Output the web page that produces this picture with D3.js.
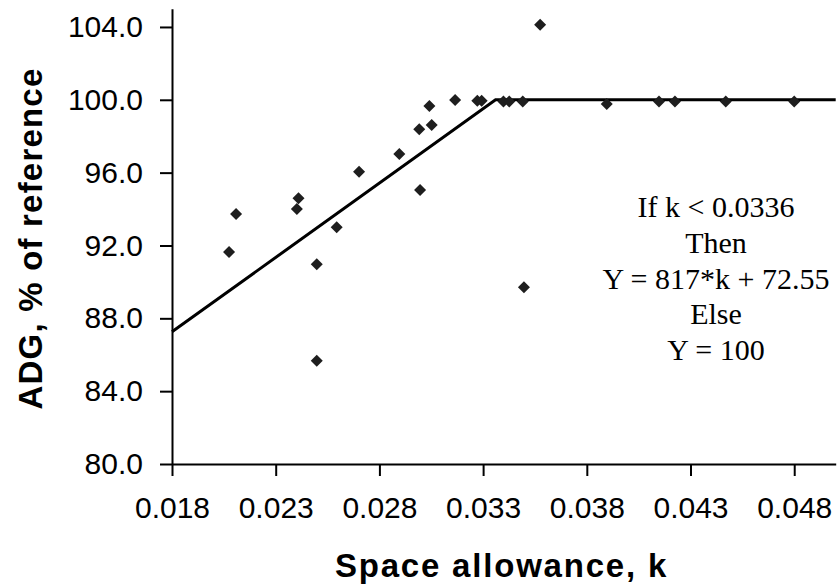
<!DOCTYPE html>
<html>
<head>
<meta charset="utf-8">
<script src="https://cdn.jsdelivr.net/npm/d3@7"></script>
<style>
  html, body { margin: 0; padding: 0; background: #fff; }
  svg { display: block; }
  .tick text { font-family: "Liberation Sans", Arial, sans-serif; font-size: 30px; fill: #000; }
</style>
</head>
<body>
<svg id="chart" width="838" height="586"></svg>
<script>
// ---- data ----
const spaceK = [0.02075, 0.02109, 0.02402, 0.0241, 0.02498, 0.02498, 0.02594, 0.02702, 0.02896, 0.02996,
                0.02992, 0.03052, 0.03041, 0.03165, 0.03272, 0.03293, 0.03398, 0.03426, 0.03491, 0.03575,
                0.03497, 0.03896, 0.04148, 0.04225, 0.0447, 0.048];
const adgPct = [91.64, 93.73, 94.0, 94.59, 90.97, 85.67, 93.0, 96.05, 97.02, 95.05,
                98.38, 98.62, 99.66, 99.99, 99.95, 99.95, 99.9, 99.9, 99.9, 104.12,
                89.7, 99.77, 99.9, 99.9, 99.9, 99.9];
const trendK = [0.018, 0.0336, 0.050];
const trendY = [87.26, 100.0, 100.0];
const xTicks = [0.018, 0.023, 0.028, 0.033, 0.038, 0.043, 0.048];
const yTicks = [80, 84, 88, 92, 96, 100, 104];
const annotation = ["If k < 0.0336", "Then", "Y = 817*k + 72.55", "Else", "Y = 100"];
const xTitle = "Space allowance, k";
const yTitle = "ADG, % of reference";

// ---- layout ----
const svg = d3.select("#chart");
const x = d3.scaleLinear().domain([0.018, 0.050]).range([172, 835.7]);
const y = d3.scaleLinear().domain([80, 105]).range([464, 8.75]);

// axes
const gx = svg.append("g").attr("transform", `translate(0,${y(80)})`)
  .call(d3.axisBottom(x).tickValues(xTicks).tickFormat(d3.format(".3f")).tickSize(12).tickPadding(21).tickSizeOuter(0));
const gy = svg.append("g").attr("transform", `translate(${x(0.018)},0)`)
  .call(d3.axisLeft(y).tickValues(yTicks).tickFormat(d3.format(".1f")).tickSize(12).tickPadding(17).tickSizeOuter(0));
[gx, gy].forEach(g => {
  g.select(".domain").attr("stroke", "#000").attr("stroke-width", 2);
  g.selectAll(".tick line").attr("stroke", "#000").attr("stroke-width", 2);
});

// trend line
const pts = trendK.map((k, i) => [k, trendY[i]]);
svg.append("path")
  .datum(pts)
  .attr("fill", "none")
  .attr("stroke", "#000")
  .attr("stroke-width", 3)
  .attr("d", d3.line().x(d => x(d[0])).y(d => y(d[1])));

// markers
const sym = d3.symbol().type(d3.symbolSquare).size(72);
svg.append("g").selectAll("path")
  .data(spaceK.map((k, i) => [k, adgPct[i]]))
  .join("path")
  .attr("d", sym)
  .attr("fill", "#1e1e1e")
  .attr("transform", d => `translate(${x(d[0])},${y(d[1])}) rotate(45)`);

// annotation
const ann = svg.append("text")
  .attr("font-family", "'Liberation Serif', 'Times New Roman', serif")
  .attr("font-size", 30)
  .attr("text-anchor", "middle")
  .attr("fill", "#000");
annotation.forEach((t, i) => {
  ann.append("tspan").attr("x", 716).attr("y", 217 + i * 35.8).text(t);
});

// axis titles
svg.append("text")
  .attr("x", 501.5).attr("y", 577)
  .attr("text-anchor", "middle")
  .attr("font-family", "'Liberation Sans', Arial, sans-serif")
  .attr("font-weight", "bold")
  .attr("font-size", 33)
  .attr("letter-spacing", 1.8)
  .text(xTitle);

svg.append("text")
  .attr("transform", "translate(42,238.5) rotate(-90)")
  .attr("text-anchor", "middle")
  .attr("font-family", "'Liberation Sans', Arial, sans-serif")
  .attr("font-weight", "bold")
  .attr("font-size", 33)
  .attr("letter-spacing", 1.2)
  .text(yTitle);
</script>
</body>
</html>
